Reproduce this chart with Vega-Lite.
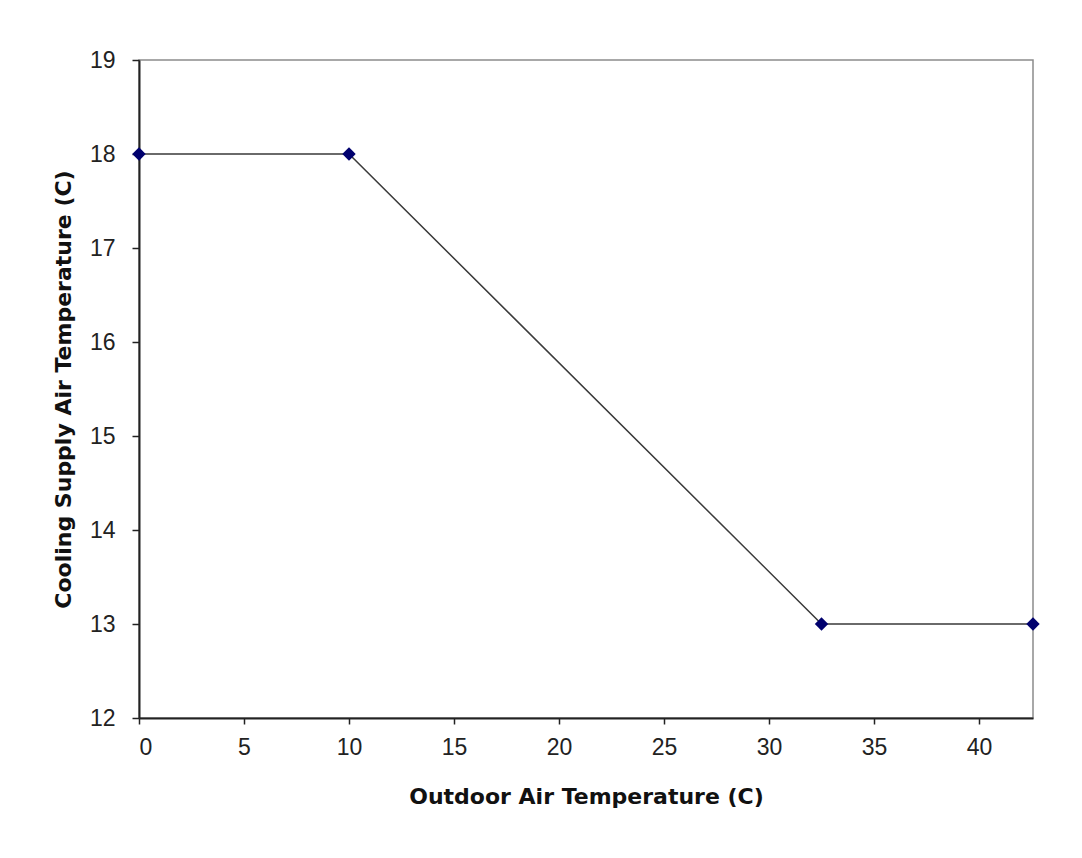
{
  "$schema": "https://vega.github.io/schema/vega-lite/v6.json",
  "width": 894,
  "height": 658,
  "autosize": {"type": "none"},
  "padding": {"left": 139, "top": 60, "right": 49, "bottom": 140},
  "background": "white",
  "data": {"values": [
    {"oat": 0, "sat": 18},
    {"oat": 10, "sat": 18},
    {"oat": 32.5, "sat": 13},
    {"oat": 42.57, "sat": 13}
  ]},
  "config": {
    "view": {"stroke": "#8c8c8c", "strokeWidth": 1.5},
    "font": "Liberation Sans",
    "axis": {
      "grid": false,
      "domainColor": "#222222",
      "domainWidth": 2,
      "tickColor": "#222222",
      "tickWidth": 1.5,
      "labelFont": "Liberation Sans",
      "labelFontSize": 23,
      "labelColor": "#222222",
      "titleFont": "DejaVu Sans",
      "titleFontSize": 22,
      "titleFontWeight": "bold",
      "titleColor": "#111111"
    }
  },
  "layer": [
    {
      "mark": {"type": "line", "color": "#3a3a3a", "strokeWidth": 1.5, "clip": false},
      "encoding": {
        "x": {"field": "oat", "type": "quantitative"},
        "y": {"field": "sat", "type": "quantitative"}
      }
    },
    {
      "mark": {"type": "point", "shape": "diamond", "filled": true, "color": "#00006e", "size": 180, "opacity": 1, "clip": false},
      "encoding": {
        "x": {
          "field": "oat", "type": "quantitative",
          "scale": {"domain": [0, 42.57], "nice": false, "zero": false},
          "axis": {"values": [0, 5, 10, 15, 20, 25, 30, 35, 40], "format": "d", "tickSize": 6, "labelPadding": 12, "title": "Outdoor Air Temperature (C)", "titlePadding": 27}
        },
        "y": {
          "field": "sat", "type": "quantitative",
          "scale": {"domain": [12, 19], "nice": false, "zero": false},
          "axis": {"values": [12, 13, 14, 15, 16, 17, 18, 19], "format": "d", "tickSize": 7, "labelPadding": 17, "title": "Cooling Supply Air Temperature (C)", "titlePadding": 14}
        }
      }
    }
  ]
}
